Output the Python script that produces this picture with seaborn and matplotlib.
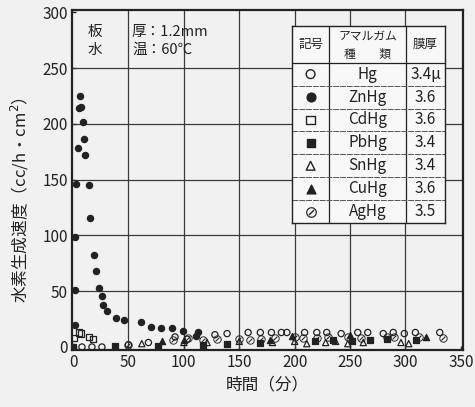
import matplotlib
matplotlib.use('Agg')
import matplotlib.pyplot as plt
import seaborn as sns

t_zn = [0, 2, 2, 2, 3, 4, 5, 6, 7, 9, 10, 11, 14, 15, 19, 21, 23, 26, 27, 31, 39, 46, 61, 70, 79, 89, 99, 111, 113]
v_zn = [0, 20, 51, 99, 146, 178, 214, 225, 215, 202, 186, 172, 145, 116, 82, 68, 53, 46, 38, 32, 26, 24, 22, 18, 17, 17, 14, 10, 13]

t_hg = [8, 17, 26, 50, 68, 92, 103, 128, 139, 158, 169, 179, 188, 193, 209, 220, 229, 242, 257, 266, 280, 289, 299, 309, 331]
v_hg = [0, 0, 0, 2, 4, 9, 7, 11, 12, 13, 13, 13, 13, 13, 13, 13, 13, 12, 13, 13, 12, 13, 12, 13, 13]

t_cd = [1, 5, 7, 14, 18]
v_cd = [8, 13, 12, 9, 7]

t_pb = [0, 38, 77, 117, 139, 169, 218, 235, 252, 268, 283, 310]
v_pb = [0, 1, 1, 2, 3, 4, 5, 6, 5, 6, 7, 6]

t_sn = [62, 100, 121, 150, 180, 200, 211, 228, 237, 248, 262, 296, 303]
v_sn = [3, 4, 4, 5, 4, 5, 3, 4, 5, 3, 4, 4, 3]

t_cu = [80, 100, 178, 198, 250, 319]
v_cu = [5, 6, 6, 10, 11, 9]

t_ag = [50, 90, 104, 117, 130, 150, 160, 170, 182, 200, 208, 220, 230, 248, 260, 283, 290, 312, 334]
v_ag = [2, 6, 8, 6, 7, 7, 6, 7, 8, 9, 8, 8, 9, 9, 8, 9, 9, 9, 8]

amalgams = ["Hg", "ZnHg", "CdHg", "PbHg", "SnHg", "CuHg", "AgHg"]
thickness = ["3.4μ", "3.6", "3.6", "3.4", "3.4", "3.6", "3.5"]

ink = '#222222'
paper = '#f1f1f1'

sns.set_style("ticks")
plt.rcParams['font.family'] = ['Noto Sans CJK JP', 'DejaVu Sans']
plt.rcParams['mathtext.fontset'] = 'dejavusans'

fig = plt.figure(figsize=(4.75, 4.07), dpi=100, facecolor=paper)
ax = fig.add_axes([72 / 475, 1 - 350 / 407, (463 - 72) / 475, (350 - 10) / 407])
ax.set_facecolor(paper)

# open / filled marker styles per series
styles = [
    (t_hg, v_hg, 'o', 'none'),
    (t_zn, v_zn, 'o', ink),
    (t_cd, v_cd, 's', 'none'),
    (t_pb, v_pb, 's', ink),
    (t_sn, v_sn, '^', 'none'),
    (t_cu, v_cu, '^', ink),
]
for t, v, m, fc in styles:
    sns.scatterplot(x=t, y=v, marker=m, s=20, facecolors=fc, edgecolor=ink,
                    linewidth=0.9, ax=ax, zorder=3)
sns.scatterplot(x=t_ag, y=v_ag, marker=r'$\oslash$', s=36, color=ink,
                linewidth=0, ax=ax, zorder=3)

ax.set_xlim(-1, 352)
ax.set_ylim(-2.7, 302)
ax.set_xticks(range(0, 351, 50))
ax.set_yticks(range(0, 301, 50))
for x in range(50, 301, 50):
    ax.axvline(x, color='#3a3a3a', lw=0.9, zorder=1)
for y in range(50, 251, 50):
    ax.axhline(y, color='#3a3a3a', lw=0.9, zorder=1)
ax.tick_params(direction='in', length=3, width=1, labelsize=11, colors=ink, pad=3)
for sp in ax.spines.values():
    sp.set_visible(True)
    sp.set_linewidth(1.6)
    sp.set_color(ink)

ax.set_xlabel("時間（分）", fontsize=12, color=ink, labelpad=4)
fig.text(20 / 475, 1 - 200 / 407, "水素生成速度（cc/h・cm$^2$）", rotation=90,
         fontsize=12, color=ink, ha='center', va='center')

# conditions in the upper left corner
ax.text(88 / 475, 1 - 32 / 407, "板", transform=fig.transFigure, fontsize=10.5, color=ink, va='center')
ax.text(88 / 475, 1 - 50 / 407, "水", transform=fig.transFigure, fontsize=10.5, color=ink, va='center')
ax.text(132 / 475, 1 - 32 / 407, "厚：1.2mm", transform=fig.transFigure, fontsize=10.5, color=ink, va='center')
ax.text(132 / 475, 1 - 50 / 407, "温：60℃", transform=fig.transFigure, fontsize=10.5, color=ink, va='center')

# legend table
tb = fig.add_axes([292 / 475, 1 - 223 / 407, (445 - 292) / 475, (223 - 26) / 407])
tb.set_facecolor('#f8f8f8')
tb.set_xlim(0, 1)
tb.set_ylim(0, 1)
tb.set_xticks([])
tb.set_yticks([])
for sp in tb.spines.values():
    sp.set_linewidth(1.0)
    sp.set_color(ink)
c1, c2 = 0.243, 0.746
head = 1 - 36.7 / 197
row_h = head / 7
tb.axvline(c1, color=ink, lw=0.9)
tb.axvline(c2, color=ink, lw=0.9)
tb.axhline(head, color=ink, lw=0.9)
for i in range(1, 7):
    tb.axhline(head - i * row_h, color='#555555', lw=0.7, ls=(0, (6, 1)))

tb.text(c1 / 2, (1 + head) / 2, "記号", ha='center', va='center', fontsize=9, color=ink)
tb.text((c1 + c2) / 2, 1 - 0.055, "アマルガム", ha='center', va='center', fontsize=8.5, color=ink)
tb.text((c1 + c2) / 2, head + 0.04, "種　　類", ha='center', va='center', fontsize=8.5, color=ink)
tb.text((c2 + 1) / 2, (1 + head) / 2, "膜厚", ha='center', va='center', fontsize=9, color=ink)

markers = [('o', 'none'), ('o', ink), ('s', 'none'), ('s', ink), ('^', 'none'), ('^', ink)]
for i, name in enumerate(amalgams):
    yc = head - (i + 0.5) * row_h
    if i < 6:
        m, fc = markers[i]
        tb.scatter([c1 / 2], [yc], marker=m, s=40, facecolors=fc, edgecolors=ink, linewidths=1.0)
    else:
        tb.scatter([c1 / 2], [yc], marker=r'$\oslash$', s=60, color=ink, linewidths=0)
    tb.text((c1 + c2) / 2, yc, name, ha='center', va='center', fontsize=11, color=ink)
    tb.text((c2 + 1) / 2, yc, thickness[i], ha='center', va='center', fontsize=11, color=ink)

plt.savefig("out.png", dpi=100, facecolor=paper)
